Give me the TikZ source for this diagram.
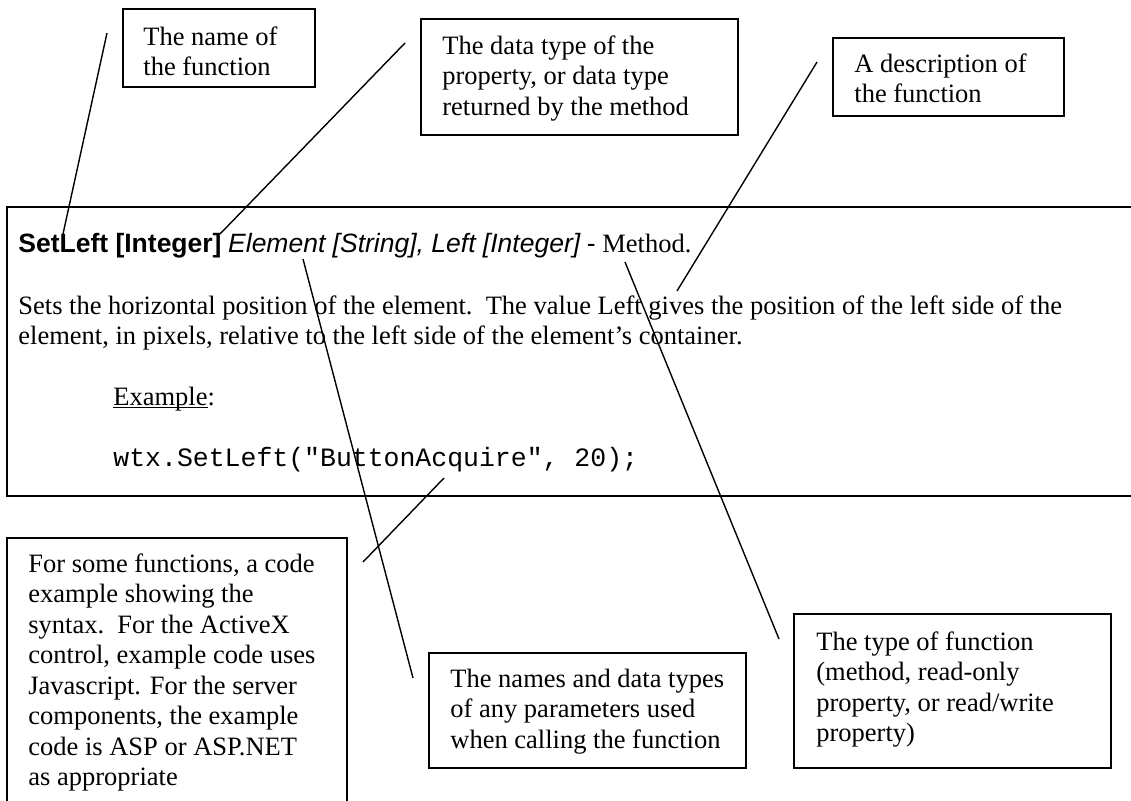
\documentclass[tikz,border=0pt]{standalone}
\usepackage{fontspec}
\setmainfont{Liberation Serif}
\setsansfont{Liberation Sans}
\setmonofont{Liberation Mono}
\usetikzlibrary{fit}
\newcommand\myul[1]{\setbox0\hbox{#1}\rlap{\rule[-1.6pt]{\wd0}{0.6pt}}\box0}
\begin{document}
\begin{tikzpicture}[x=0.5pt,y=-0.5pt,
  box/.style={draw, line width=0.9pt, inner sep=0pt},
  lbl/.style={anchor=base west, inner sep=0pt, font=\fontsize{13.25}{15.25}\selectfont},
  conn/.style={line width=0.7pt}]
\useasboundingbox (0,0) rectangle (1131,800);
\clip (0,0) rectangle (1131,800);
\fill[white] (0,0) rectangle (1131,800);

% main description box (runs off the right edge)
\node[box, fit={(7,207) (1160,496)}] (main) {};
\node[lbl] (head) at (18,252) {{\sffamily\bfseries SetLeft [Integer]} {\sffamily\itshape Element [String], Left [Integer]} {\sffamily -} Method.};
\node[lbl] (desc) at (18,314) {\parbox[t]{560pt}{Sets the horizontal position of the element.\ \ The value Left gives the position of the left side of the\\element, in pixels, relative to the left side of the element’s container.}};
\node[lbl] (ex) at (113,405) {\myul{Example}:};
\node[lbl] (code) at (113,466) {\ttfamily wtx.SetLeft("ButtonAcquire", 20);};

% callout boxes
\node[box, fit={(123,9) (315,87)}] (boxA) {};
\node[lbl] (tA) at (143,45) {\parbox[t]{150pt}{The name of\\the function}};

\node[box, fit={(421,19) (738,135)}] (boxB) {};
\node[lbl] (tB) at (442,54) {\parbox[t]{200pt}{The data type of the\\property, or data type\\returned by the method}};

\node[box, fit={(833,38) (1064,116)}] (boxC) {};
\node[lbl] (tC) at (854,72) {\parbox[t]{150pt}{A description of\\the function}};

\node[box, fit={(7,538) (347,830)}] (boxD) {};
\node[lbl] (tD) at (28,572) {\parbox[t]{200pt}{For some functions, a code\\example showing the\\syntax.\ \ For the ActiveX\\control, example code uses\\Javascript. For the server\\components, the example\\code is ASP or ASP.NET\\as appropriate}};

\node[box, fit={(429,653) (746,768)}] (boxE) {};
\node[lbl] (tE) at (450,687) {\parbox[t]{200pt}{The names and data types\\of any parameters used\\when calling the function}};

\node[box, fit={(794,614) (1111,768)}] (boxF) {};
\node[lbl] (tF) at (816,650) {\parbox[t]{200pt}{The type of function\\(method, read-only\\property, or read/write\\property)}};

% connector end points
\coordinate (a1) at (107,33);  \coordinate (a2) at (63,234);
\coordinate (b1) at (405,43);  \coordinate (b2) at (220,234);
\coordinate (c1) at (817,62);  \coordinate (c2) at (677,291);
\coordinate (e1) at (303,259); \coordinate (e2) at (413,678);
\coordinate (f1) at (625,262); \coordinate (f2) at (779,639);
\coordinate (d1) at (444,478); \coordinate (d2) at (363,562);

\draw[conn] (a1) -- (a2);
\draw[conn] (b1) -- (b2);
\draw[conn] (c1) -- (c2);
\draw[conn] (e1) -- (e2);
\draw[conn] (f1) -- (f2);
\draw[conn] (d1) -- (d2);
\end{tikzpicture}
\end{document}
